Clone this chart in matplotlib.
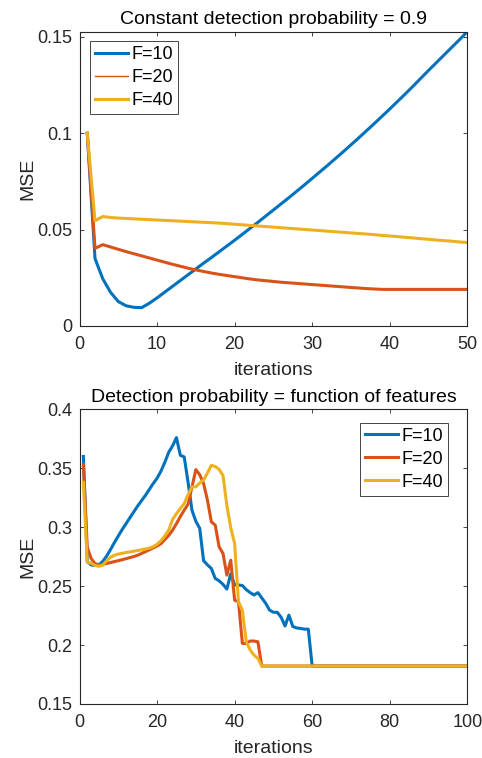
import matplotlib
matplotlib.use("Agg")
import matplotlib.pyplot as plt
from matplotlib.ticker import FuncFormatter, MultipleLocator
from matplotlib.lines import Line2D

plt.rcParams['font.family'] = ['Liberation Sans', 'DejaVu Sans']

# ---------------- data ----------------
iters_top = list(range(1, 51))
top_f10 = [0.100, 0.035, 0.0245, 0.0175, 0.0127, 0.0105, 0.0097, 0.0095, 0.0118, 0.0146,
           0.0176, 0.0206, 0.0236, 0.0266, 0.0296, 0.0326, 0.0355, 0.0385, 0.0415, 0.0445,
           0.0476, 0.0507, 0.0538, 0.0570, 0.0602, 0.0634, 0.0666, 0.0699, 0.0732, 0.0766,
           0.0800, 0.0834, 0.0869, 0.0904, 0.0940, 0.0976, 0.1013, 0.1050, 0.1088, 0.1126,
           0.1165, 0.1204, 0.1244, 0.1285, 0.1326, 0.1366, 0.1406, 0.1446, 0.1486, 0.1527]
top_f20 = [0.100, 0.0403, 0.0422, 0.0410, 0.0398, 0.0386, 0.0375, 0.0364, 0.0353, 0.0342,
           0.0331, 0.0320, 0.0310, 0.0300, 0.0291, 0.0283, 0.0275, 0.0268, 0.0262, 0.0256,
           0.0250, 0.0244, 0.0239, 0.0235, 0.0231, 0.0227, 0.0224, 0.0221, 0.0218, 0.0215,
           0.0212, 0.0209, 0.0206, 0.0203, 0.0200, 0.0197, 0.0194, 0.0192, 0.0190, 0.0190,
           0.0190, 0.0190, 0.0190, 0.0190, 0.0190, 0.0190, 0.0190, 0.0190, 0.0190, 0.0190]
top_f40 = [0.100, 0.0546, 0.0568, 0.0563, 0.0560, 0.0558, 0.0556, 0.0554, 0.0552, 0.0550,
           0.0548, 0.0546, 0.0544, 0.0542, 0.0540, 0.0538, 0.0536, 0.0534, 0.0531, 0.0528,
           0.0525, 0.0522, 0.0519, 0.0516, 0.0513, 0.0510, 0.0507, 0.0504, 0.0501, 0.0498,
           0.0495, 0.0492, 0.0489, 0.0486, 0.0483, 0.0480, 0.0477, 0.0474, 0.0470, 0.0467,
           0.0464, 0.0460, 0.0457, 0.0453, 0.0450, 0.0446, 0.0443, 0.0440, 0.0436, 0.0433]

iters_bot = list(range(1, 101))
bot_f10 = [0.360, 0.271, 0.268, 0.2675, 0.268, 0.271, 0.2755, 0.281, 0.287, 0.2925,
           0.298, 0.303, 0.308, 0.313, 0.318, 0.3225, 0.327, 0.332, 0.337, 0.3415,
           0.3475, 0.355, 0.3635, 0.369, 0.376, 0.361, 0.3596, 0.338, 0.3144, 0.305,
           0.299, 0.2715, 0.268, 0.265, 0.2565, 0.2545, 0.2515, 0.2475, 0.2605, 0.251,
           0.251, 0.2505, 0.247, 0.2445, 0.2425, 0.2445, 0.240, 0.2355, 0.2297, 0.2278,
           0.2278, 0.2235, 0.2162, 0.2254, 0.2158, 0.2145, 0.2141, 0.2135, 0.2135] + [0.1822] * 41
bot_f20 = [0.353, 0.283, 0.2734, 0.2692, 0.268, 0.2685, 0.2692, 0.2700, 0.2708, 0.2716,
           0.2724, 0.2733, 0.2742, 0.2751, 0.2762, 0.2777, 0.2792, 0.2808, 0.2824, 0.2840,
           0.2860, 0.2895, 0.2930, 0.2975, 0.3030, 0.3090, 0.3144, 0.3195, 0.3340, 0.3489,
           0.3445, 0.3370, 0.3229, 0.3045, 0.3017, 0.2833, 0.2777, 0.2593, 0.2720, 0.2381,
           0.2367, 0.2014, 0.2014, 0.2034, 0.2034, 0.2028] + [0.1822] * 54
bot_f40 = [0.338, 0.2700, 0.2695, 0.2675, 0.2668, 0.2678, 0.2715, 0.2745, 0.2762, 0.2772,
           0.2779, 0.2785, 0.2790, 0.2796, 0.2802, 0.2808, 0.2815, 0.2822, 0.2835, 0.2855,
           0.2885, 0.2925, 0.2975, 0.3065, 0.3115, 0.3158, 0.3200, 0.3275, 0.3342, 0.3342,
           0.3375, 0.3400, 0.3460, 0.3525, 0.3515, 0.3490, 0.3440, 0.3185, 0.2995, 0.2862,
           0.2367, 0.2297, 0.2028, 0.1958, 0.1915, 0.1887] + [0.1822] * 54

labels = ["F=10", "F=20", "F=40"]
colors = ["#0072BD", "#D95319", "#EDB120"]

top_title = "Constant detection probability = 0.9"
bot_title = "Detection probability = function of features"

# ---------------- figure ----------------
W, H = 482, 758
fig = plt.figure(figsize=(W / 100, H / 100), dpi=100)

axcol = "#262626"
fs = 13
lfs = 14
lw = 2.2


def style(ax):
    for s in ax.spines.values():
        s.set_color(axcol)
        s.set_linewidth(0.8)
    ax.tick_params(direction="in", top=True, right=True, length=3.2, width=0.6,
                   colors=axcol, labelsize=fs)
    ax.tick_params(axis="x", pad=7)
    ax.tick_params(axis="y", pad=5)
    ax.yaxis.set_major_formatter(FuncFormatter(lambda v, p: "%g" % round(v, 4)))
    ax.set_xlabel("iterations", fontsize=lfs, color=axcol, labelpad=7)
    ax.set_ylabel("MSE", fontsize=lfs, color=axcol, labelpad=1)


def legend(ax, handles, loc, anchor):
    leg = ax.legend(handles, labels, loc=loc, bbox_to_anchor=anchor,
                    fontsize=13, fancybox=False, framealpha=1, edgecolor=axcol,
                    handlelength=1.85, handletextpad=0.18, borderpad=0.28,
                    labelspacing=0.33, borderaxespad=0.0)
    leg.get_frame().set_linewidth(0.6)
    return leg


ax1 = fig.add_axes([79.5 / W, 1 - 326 / H, (467.3 - 79.5) / W, (326 - 31.7) / H])
for ys, c in zip([top_f10, top_f20, top_f40], colors):
    ax1.plot(iters_top, ys, color=c, lw=lw, solid_joinstyle="round")
ax1.set_xlim(0, 50)
ax1.set_ylim(0, max(top_f10))
ax1.xaxis.set_major_locator(MultipleLocator(10))
ax1.yaxis.set_major_locator(MultipleLocator(0.05))
style(ax1)
ax1.set_title(top_title, fontsize=14, pad=5.5)
handles1 = [Line2D([], [], color=colors[0], lw=lw),
            Line2D([], [], color=colors[1], lw=1.0),
            Line2D([], [], color=colors[2], lw=lw)]
legend(ax1, handles1, "upper left", (0.026, 0.968))

ax2 = fig.add_axes([79.5 / W, 1 - 704 / H, (467.3 - 79.5) / W, (704 - 409.3) / H])
for ys, c in zip([bot_f10, bot_f20, bot_f40], colors):
    ax2.plot(iters_bot, ys, color=c, lw=lw, solid_joinstyle="round")
ax2.set_xlim(0, 100)
ax2.set_ylim(0.15, 0.4)
ax2.xaxis.set_major_locator(MultipleLocator(20))
ax2.yaxis.set_major_locator(MultipleLocator(0.05))
style(ax2)
ax2.set_title(bot_title, fontsize=14, pad=5.5)
handles2 = [Line2D([], [], color=c, lw=lw) for c in colors]
legend(ax2, handles2, "upper right", (0.95, 0.955))

fig.savefig("out.png", dpi=100, facecolor="white")
